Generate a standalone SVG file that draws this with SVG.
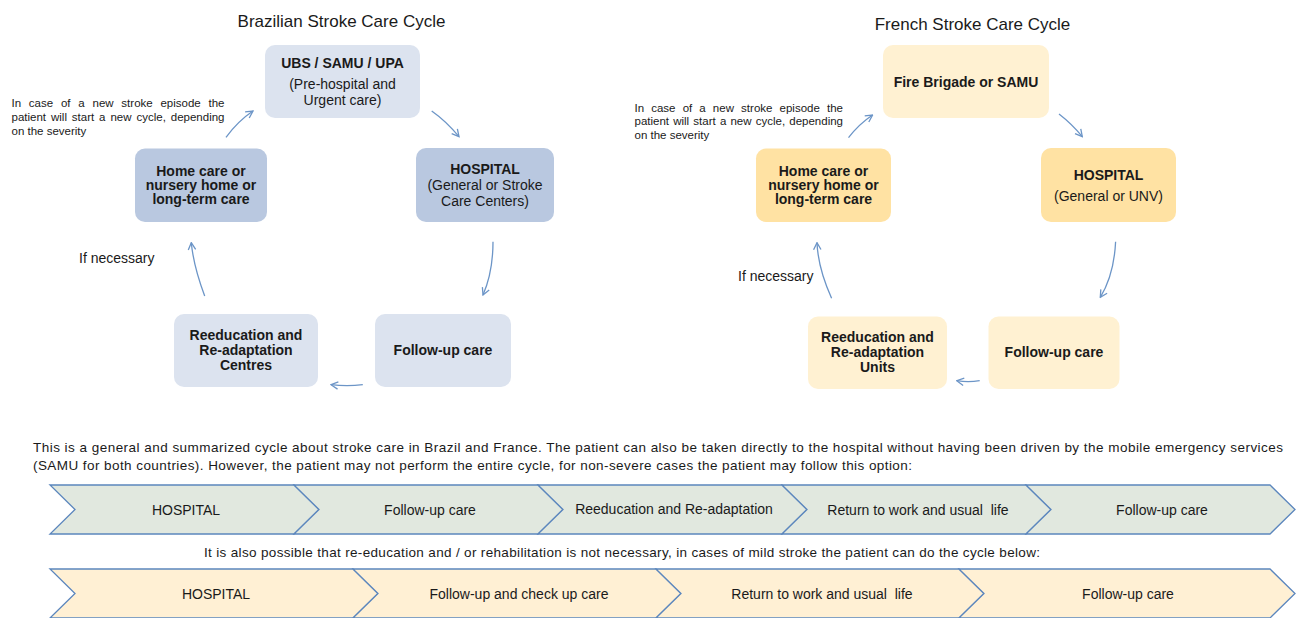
<svg xmlns="http://www.w3.org/2000/svg" width="1297" height="618" viewBox="0 0 1297 618">
<defs>
<style>
text{font-family:"Liberation Sans",Arial,Helvetica,sans-serif;fill:#1a1a1a}
.title{font-size:17px}
.nb{font-size:14px;font-weight:bold;text-anchor:middle}
.nr{font-size:14px;text-anchor:middle}
.note{font-size:11.5px}
.lbl{font-size:14px}
.para{font-size:13.5px}
.chv{font-size:14px;text-anchor:middle}
.bl{fill:#dce3ef}
.bd{fill:#b9c8e0}
.fl{fill:#fff1d2}
.fd{fill:#ffe2a3}
.c1{fill:#e1e8df;stroke:#5b86bd;stroke-width:1.3}
.c2{fill:#fff0d4;stroke:#5b86bd;stroke-width:1.3}
.arr{fill:none;stroke:#6c95c7;stroke-width:1.3;marker-end:url(#ah)}
</style>
<marker id="ah" viewBox="0 0 10 10" refX="9" refY="5" markerWidth="10" markerHeight="10" markerUnits="userSpaceOnUse" orient="auto">
<path d="M2,1.3 L9,5 L2,8.7" fill="none" stroke="#6c95c7" stroke-width="1.3"/>
</marker>
</defs>
<rect width="1297" height="618" fill="#ffffff"/>

<text class="title" x="341.5" y="26.5" text-anchor="middle">Brazilian Stroke Care Cycle</text>
<text class="title" x="972.5" y="30" text-anchor="middle">French Stroke Care Cycle</text>

<g id="br-ubs">
<rect class="bl" x="265" y="45" width="155" height="73" rx="10"/>
<text class="nb" x="342.5" y="68.3">UBS / SAMU / UPA</text>
<text class="nr" x="342.5" y="89">(Pre-hospital and</text>
<text class="nr" x="342.5" y="104.5">Urgent care)</text>
</g>
<g id="br-hospital">
<rect class="bd" x="416" y="148" width="138" height="74" rx="10"/>
<text class="nb" x="485" y="174">HOSPITAL</text>
<text class="nr" x="485" y="190">(General or Stroke</text>
<text class="nr" x="485" y="205.7">Care Centers)</text>
</g>
<g id="br-home">
<rect class="bd" x="135" y="148.5" width="132" height="73.5" rx="10"/>
<text class="nb" x="201" y="176">Home care or</text>
<text class="nb" x="201" y="190">nursery home or</text>
<text class="nb" x="201" y="204">long-term care</text>
</g>
<g id="br-reed">
<rect class="bl" x="174" y="314" width="144" height="73" rx="10"/>
<text class="nb" x="246" y="340">Reeducation and</text>
<text class="nb" x="246" y="355">Re-adaptation</text>
<text class="nb" x="246" y="370">Centres</text>
</g>
<g id="br-follow">
<rect class="bl" x="375" y="314" width="136" height="73" rx="10"/>
<text class="nb" x="443" y="355">Follow-up care</text>
</g>

<g id="fr-fire">
<rect class="fl" x="883" y="45" width="166" height="73" rx="10"/>
<text class="nb" x="966" y="86.5">Fire Brigade or SAMU</text>
</g>
<g id="fr-hospital">
<rect class="fd" x="1041" y="148" width="135" height="74" rx="10"/>
<text class="nb" x="1108.5" y="180">HOSPITAL</text>
<text class="nr" x="1108.5" y="201">(General or UNV)</text>
</g>
<g id="fr-home">
<rect class="fd" x="756" y="148.5" width="135" height="73.5" rx="10"/>
<text class="nb" x="823.5" y="176">Home care or</text>
<text class="nb" x="823.5" y="190">nursery home or</text>
<text class="nb" x="823.5" y="204">long-term care</text>
</g>
<g id="fr-reed">
<rect class="fl" x="808" y="316.5" width="139" height="72.5" rx="10"/>
<text class="nb" x="877.5" y="342">Reeducation and</text>
<text class="nb" x="877.5" y="357">Re-adaptation</text>
<text class="nb" x="877.5" y="371.5">Units</text>
</g>
<g id="fr-follow">
<rect class="fl" x="988.5" y="316.5" width="131" height="72.5" rx="10"/>
<text class="nb" x="1054" y="357">Follow-up care</text>
</g>

<g id="notes">
<text class="note" x="11.5" y="107" word-spacing="4.6" textLength="213" lengthAdjust="spacing">In case of a new stroke episode the</text>
<text class="note" x="11.5" y="121" word-spacing="1.7" textLength="213" lengthAdjust="spacing">patient will start a new cycle, depending</text>
<text class="note" x="11.5" y="135">on the severity</text>
<text class="note" x="634.5" y="111.5" word-spacing="3.9" textLength="208.5" lengthAdjust="spacing">In case of a new stroke episode the</text>
<text class="note" x="634.5" y="125" word-spacing="1" textLength="208.5" lengthAdjust="spacing">patient will start a new cycle, depending</text>
<text class="note" x="634.5" y="139">on the severity</text>
<text class="lbl" x="79" y="263">If necessary</text>
<text class="lbl" x="738" y="280.5">If necessary</text>
</g>

<g id="connectors">
<path class="arr" d="M226,137.3 Q238,121 253,111"/>
<path class="arr" d="M431.7,111 Q446,121 459,136.7"/>
<path class="arr" d="M493,241.7 Q493,272 483,295"/>
<path class="arr" d="M362.8,384.7 Q347,386.5 331,384.7"/>
<path class="arr" d="M204.7,296 Q193.5,266 191.3,242.7"/>
<path class="arr" d="M848.5,137.7 Q859,124 872.6,115"/>
<path class="arr" d="M1059,114 Q1072,124 1082.3,136.7"/>
<path class="arr" d="M1115.6,241.7 Q1114,275 1100.3,297.3"/>
<path class="arr" d="M979.7,380.7 Q968,382.5 956.8,380.7"/>
<path class="arr" d="M831.6,298.3 Q818,268 817,242.7"/>
</g>

<g id="paragraph">
<text class="para" x="33" y="451.5" textLength="1250" lengthAdjust="spacing">This is a general and summarized cycle about stroke care in Brazil and France. The patient can also be taken directly to the hospital without having been driven by the mobile emergency services</text>
<text class="para" x="33" y="470" textLength="879" lengthAdjust="spacing">(SAMU for both countries). However, the patient may not perform the entire cycle, for non-severe cases the patient may follow this option:</text>
<text class="para" x="204" y="556.5" textLength="836" lengthAdjust="spacing">It is also possible that re-education and / or rehabilitation is not necessary, in cases of mild stroke the patient can do the cycle below:</text>
</g>

<g id="row1">
<g id="r1-hospital"><polygon class="c1" points="50,485 294,485 319,509.5 294,534 50,534 75,509.5"/><text class="chv" x="186" y="515">HOSPITAL</text></g>
<g id="r1-follow"><polygon class="c1" points="294,485 538,485 563,509.5 538,534 294,534 319,509.5"/><text class="chv" x="430" y="515">Follow-up care</text></g>
<g id="r1-reed"><polygon class="c1" points="538,485 782,485 807,509.5 782,534 538,534 563,509.5"/><text class="chv" x="674" y="514">Reeducation and Re-adaptation</text></g>
<g id="r1-return"><polygon class="c1" points="782,485 1026,485 1051,509.5 1026,534 782,534 807,509.5"/><text class="chv" x="918" y="515" xml:space="preserve">Return to work and usual  life</text></g>
<g id="r1-follow2"><polygon class="c1" points="1026,485 1270,485 1295,509.5 1270,534 1026,534 1051,509.5"/><text class="chv" x="1162" y="515">Follow-up care</text></g>
</g>

<g id="row2">
<g id="r2-hospital"><polygon class="c2" points="50,569 353,569 378,593.5 353,618 50,618 75,593.5"/><text class="chv" x="216" y="599">HOSPITAL</text></g>
<g id="r2-follow"><polygon class="c2" points="353,569 656,569 681,593.5 656,618 353,618 378,593.5"/><text class="chv" x="519" y="599">Follow-up and check up care</text></g>
<g id="r2-return"><polygon class="c2" points="656,569 959,569 984,593.5 959,618 656,618 681,593.5"/><text class="chv" x="822" y="599" xml:space="preserve">Return to work and usual  life</text></g>
<g id="r2-follow2"><polygon class="c2" points="959,569 1270,569 1295,593.5 1270,618 959,618 984,593.5"/><text class="chv" x="1128" y="599">Follow-up care</text></g>
</g>
</svg>
